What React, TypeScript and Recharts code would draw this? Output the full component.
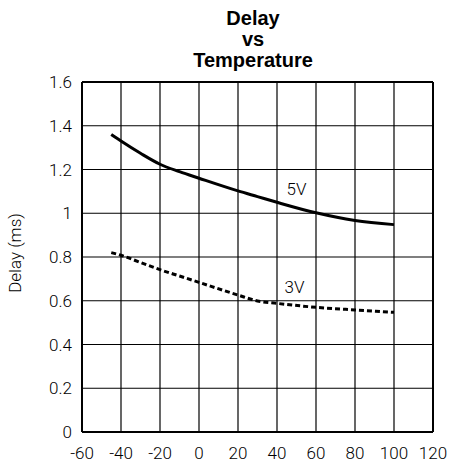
import React from 'react';
import {
  LineChart,
  Line,
  XAxis,
  YAxis,
  CartesianGrid,
  ReferenceLine,
  ReferenceDot,
} from 'recharts';

const temps = [-45, -40, -30, -20, -10, 0, 20, 30, 40, 60, 80, 100];
const delay5V = [1.36, 1.33, 1.274, 1.224, 1.19, 1.16, 1.102, 1.076, 1.05, 1.002, 0.967, 0.948];
const delay3V = [0.82, 0.808, 0.775, 0.742, 0.713, 0.684, 0.626, 0.599, 0.588, 0.57, 0.558, 0.547];

const xTicks = [-60, -40, -20, 0, 20, 40, 60, 80, 100, 120];
const yTicks = [0, 0.2, 0.4, 0.6, 0.8, 1, 1.2, 1.4, 1.6];
const titleLines = ['Delay', 'vs', 'Temperature'];

const data = temps.map((t, i) => ({ temp: t, v5: delay5V[i], v3: delay3V[i] }));

const tickFont = {
  fill: '#000',
  fontSize: 17,
  fontWeight: 300,
  fontFamily: 'Roboto, "DejaVu Sans", sans-serif',
};

function YLabel({ viewBox }: any) {
  const cx = 15;
  const cy = viewBox.y + viewBox.height / 2 - 4;
  return (
    <text
      x={cx}
      y={cy}
      transform={`rotate(-90, ${cx}, ${cy})`}
      textAnchor="middle"
      dominantBaseline="central"
      {...tickFont}
    >
      Delay (ms)
    </text>
  );
}

function CurveLabel(text: string) {
  return ({ viewBox }: any) => (
    <text
      x={viewBox.x + viewBox.width / 2}
      y={viewBox.y + viewBox.height / 2}
      textAnchor="middle"
      dominantBaseline="central"
      {...tickFont}
    >
      {text}
    </text>
  );
}

export default function App() {
  return (
    <div style={{ position: 'relative', width: 449, height: 464, background: '#fff' }}>
      <style>{`body{margin:0}`}</style>
      <div
        style={{
          position: 'absolute',
          left: 0,
          top: 8,
          width: 506,
          textAlign: 'center',
          fontFamily: '"Liberation Sans", Arial, sans-serif',
          fontWeight: 'bold',
          fontSize: 20,
          lineHeight: '21px',
          color: '#000',
        }}
      >
        {titleLines.map(l => (
          <div key={l}>{l}</div>
        ))}
      </div>
      <LineChart width={449} height={464} data={data} margin={{ top: 82, right: 16, bottom: 0, left: 0 }}>
        <CartesianGrid stroke="#000" strokeWidth={1.2} />
        <XAxis
          dataKey="temp"
          type="number"
          domain={[-60, 120]}
          ticks={xTicks}
          height={32}
          axisLine={false}
          tickLine={false}
          tickSize={0}
          tickMargin={15}
          interval={0}
          tick={tickFont}
        />
        <YAxis
          type="number"
          domain={[0, 1.6]}
          ticks={yTicks}
          width={82}
          axisLine={false}
          tickLine={false}
          tickSize={0}
          tickMargin={10}
          interval={0}
          tick={tickFont}
          label={<YLabel />}
        />
        <ReferenceLine x={-60} stroke="#000" strokeWidth={2} />
        <ReferenceLine x={120} stroke="#000" strokeWidth={2} />
        <ReferenceLine y={0} stroke="#000" strokeWidth={2} />
        <ReferenceLine y={1.6} stroke="#000" strokeWidth={2} />
        <Line
          dataKey="v5"
          type="monotone"
          stroke="#000"
          strokeWidth={3}
          dot={false}
          isAnimationActive={false}
        />
        <Line
          dataKey="v3"
          type="monotone"
          stroke="#000"
          strokeWidth={3}
          strokeDasharray="5 3"
          dot={false}
          isAnimationActive={false}
        />
        <ReferenceDot x={50} y={1.11} r={0} stroke="none" fill="none" label={CurveLabel('5V')} />
        <ReferenceDot x={49} y={0.663} r={0} stroke="none" fill="none" label={CurveLabel('3V')} />
      </LineChart>
    </div>
  );
}
